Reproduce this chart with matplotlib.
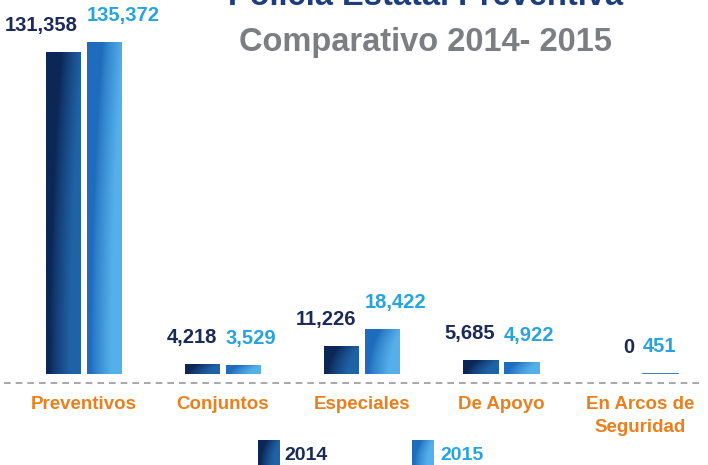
import numpy as np
import matplotlib
matplotlib.use("Agg")
import matplotlib.pyplot as plt
import matplotlib.transforms as mtransforms
from matplotlib.colors import to_rgb

plt.rcParams['font.family'] = ['Liberation Sans', 'DejaVu Sans']
plt.rcParams['font.weight'] = 'bold'

# Data
categories = ['Preventivos', 'Conjuntos', 'Especiales', 'De Apoyo', 'En Arcos de\nSeguridad']
values_2014 = [131358, 4218, 11226, 5685, 0]
values_2015 = [135372, 3529, 18422, 4922, 451]
labels_2014 = ['131,358', '4,218', '11,226', '5,685', '0']
labels_2015 = ['135,372', '3,529', '18,422', '4,922', '451']
series = ['2014', '2015']

W, H = 708, 465
NAVY = '#1b2a57'
CYAN = '#27a4df'
ORANGE = '#ea7f1e'
GRAY = '#7c7e81'

grad_2014 = ('#0b2756', '#1f63a6')
grad_2015 = ('#1f6cbd', '#55b0ea')


def gradient(c0, c1, n=60):
    a, b = np.array(to_rgb(c0)), np.array(to_rgb(c1))
    u = np.linspace(0, 1, n)[None, :]
    v = np.linspace(1, 0, n)[:, None]  # top row = 1
    m = np.clip((u - 0.1 - 0.35 * v ** 2) / 0.6, 0, 1) ** 0.8
    return a[None, None, :] * (1 - m[..., None]) + b[None, None, :] * m[..., None]


fig = plt.figure(figsize=(W / 100, H / 100), dpi=100)

# axes: baseline at 374 px from top, top of tallest bar at 42 px
base_px, top_px = 374, 42
ax = fig.add_axes([0, 1 - base_px / H, 1, (base_px - top_px) / H])
spacing = 139.0
x0_px = 84.0
ymax = max(values_2015)
ax.axis('off')

x = np.arange(len(categories))
bw = 35 / spacing
off = 20.5 / spacing

bars14 = ax.bar(x - off, values_2014, bw, color='none', edgecolor='none')
bars15 = ax.bar(x + off, values_2015, bw, color='none', edgecolor='none')

for bars, (c0, c1) in ((bars14, grad_2014), (bars15, grad_2015)):
    img = gradient(c0, c1)
    for b in bars:
        if b.get_height() <= 0:
            continue
        bx, by = b.get_x(), b.get_y()
        im = ax.imshow(img, extent=[bx, bx + b.get_width(), by, by + b.get_height()],
                       aspect='auto', zorder=2, interpolation='bilinear')
        im.set_clip_path(b)
        if b.get_height() < ymax * 0.01:
            ax.plot([bx, bx + b.get_width()], [by, by], color='#3b7fc8', lw=1.3, zorder=3)

ax.set_xlim(-x0_px / spacing, (W - x0_px) / spacing)
ax.set_ylim(0, ymax)

# value labels
for b, lab in zip(bars14, labels_2014):
    ax.annotate(lab, (b.get_x() + b.get_width(), b.get_height()),
                xytext=(-3, 21), textcoords='offset pixels', ha='right', va='baseline',
                fontsize=14.5, color=NAVY, fontweight='bold', annotation_clip=False)
for b, lab in zip(bars15, labels_2015):
    ax.annotate(lab, (b.get_x(), b.get_height()),
                xytext=(0, 21), textcoords='offset pixels', ha='left', va='baseline',
                fontsize=14.5, color=CYAN, fontweight='bold', annotation_clip=False)

# dashed baseline
ax.axhline(-ymax * 9 / (base_px - top_px), color='#9a9a9a', lw=1.2,
           ls=(0, (4, 3)), clip_on=False, xmin=0.005, xmax=0.99)

# category labels
tr = mtransforms.blended_transform_factory(ax.transData, fig.transFigure)
for xi, cat in zip(x, categories):
    ax.text(xi, 1 - 396 / H, cat, transform=tr, ha='center', va='top',
            fontsize=13.5, color=ORANGE, fontweight='bold', linespacing=1.45,
            multialignment='center')

# titles
fig.text(425 / W, 1 - 5 / H, 'Policía Estatal Preventiva', ha='center', va='baseline',
         fontsize=23.5, color='#1d3d7c', fontweight='bold')
fig.text(425 / W, 1 - 51 / H, 'Comparativo 2014- 2015', ha='center', va='baseline',
         fontsize=23.5, color=GRAY, fontweight='bold')

# legend
for (sx, tx, col, grad), name in zip(((258, 284, NAVY, grad_2014), (412, 440, CYAN, grad_2015)), series):
    sax = fig.add_axes([sx / W, 0, 22 / W, (H - 440) / H])
    sax.imshow(gradient(*grad), aspect='auto', extent=[0, 1, 0, 1], interpolation='bilinear')
    sax.axis('off')
    fig.text(tx / W, 1 - 460 / H, name, ha='left', va='baseline',
             fontsize=14, color=col, fontweight='bold')

fig.savefig('out.png', dpi=100, facecolor='white')
